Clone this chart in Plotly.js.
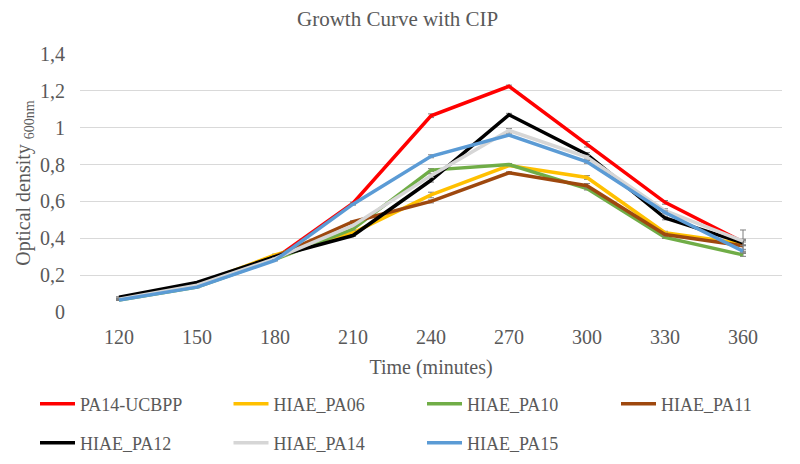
<!DOCTYPE html>
<html>
<head>
<meta charset="utf-8">
<script src="https://cdn.plot.ly/plotly-3.0.1.min.js"></script>
<style>
  html, body { margin: 0; padding: 0; background: #fff; }
  #chart { width: 800px; height: 464px; }
</style>
</head>
<body>
<div id="chart"></div>
<script>
// Temps (minutes)
const times = ['120', '150', '180', '210', '240', '270', '300', '330', '360'];

// DO600 par souche
const pa14ucbpp = [0.07, 0.14, 0.29, 0.59, 1.065, 1.225, 0.91, 0.595, 0.38];
const pa06      = [0.07, 0.15, 0.31, 0.43, 0.635, 0.795, 0.73, 0.43, 0.37];
const pa10      = [0.065, 0.135, 0.285, 0.45, 0.77, 0.80, 0.67, 0.405, 0.31];
const pa11      = [0.07, 0.145, 0.30, 0.49, 0.60, 0.755, 0.685, 0.42, 0.36];
const pa12      = [0.08, 0.16, 0.30, 0.415, 0.715, 1.07, 0.855, 0.51, 0.375];
const pa14      = [0.07, 0.145, 0.29, 0.47, 0.74, 0.985, 0.84, 0.55, 0.385];
const pa15      = [0.065, 0.135, 0.28, 0.585, 0.845, 0.96, 0.815, 0.54, 0.33];

// écarts-types
const err14ucbpp = [0.003, 0.003, 0.004, 0.006, 0.01, 0.006, 0.015, 0.01, 0.015];
const err06      = [0.003, 0.003, 0.004, 0.005, 0.015, 0.006, 0.01, 0.008, 0.01];
const err10      = [0.002, 0.003, 0.003, 0.005, 0.008, 0.006, 0.008, 0.006, 0.008];
const err11      = [0.002, 0.003, 0.003, 0.005, 0.008, 0.006, 0.012, 0.008, 0.03];
const err12      = [0.003, 0.003, 0.004, 0.005, 0.01, 0.008, 0.01, 0.01, 0.015];
const err14      = [0.002, 0.003, 0.003, 0.005, 0.01, 0.01, 0.01, 0.01, 0.06];
const err15      = [0.002, 0.003, 0.003, 0.005, 0.008, 0.006, 0.008, 0.008, 0.01];

const names  = ['PA14-UCBPP', 'HIAE_PA06', 'HIAE_PA10', 'HIAE_PA11', 'HIAE_PA12', 'HIAE_PA14', 'HIAE_PA15'];
const series = [pa14ucbpp, pa06, pa10, pa11, pa12, pa14, pa15];
const errs   = [err14ucbpp, err06, err10, err11, err12, err14, err15];
const colors = ['#FF0000', '#FFC000', '#70AD47', '#9E480E', '#000000', '#D6D6D6', '#5B9BD5'];
const legs   = ['legend', 'legend', 'legend', 'legend3', 'legend2', 'legend2', 'legend2'];

const FONT = "'Liberation Serif', 'Times New Roman', serif";
const GREY = '#595959';

const traces = series.map((y, i) => ({
  x: times, y, type: 'scatter', mode: 'lines', name: names[i],
  line: { color: colors[i], width: 3.5 },
  error_y: { type: 'data', array: errs[i], visible: true, color: '#7f7f7f', thickness: 1, width: 3 },
  legend: legs[i],
}));

const LEG = {
  orientation: 'h', xref: 'container', yref: 'container',
  x: 35 / 800, xanchor: 'left', yanchor: 'middle',
  entrywidth: 143.5, entrywidthmode: 'pixels', itemwidth: 35,
  font: { family: FONT, size: 18, color: GREY },
  bgcolor: 'rgba(0,0,0,0)',
};

const layout = {
  width: 800, height: 464,
  paper_bgcolor: '#fff', plot_bgcolor: '#fff',
  margin: { l: 80, r: 18, t: 54, b: 152 },
  separators: ', ',
  font: { family: FONT, color: GREY },
  title: { text: 'Growth Curve with CIP', x: 0.497, xanchor: 'center', y: 0.96, yanchor: 'middle',
           font: { family: FONT, size: 21, color: GREY } },
  xaxis: {
    type: 'category', range: [-0.5, 8.5], showgrid: false, zeroline: false, showline: false,
    ticks: '', tickfont: { family: FONT, size: 20, color: GREY }, ticklabelstandoff: 11,
    title: { text: 'Time (minutes)', font: { family: FONT, size: 20, color: GREY }, standoff: 12 },
  },
  yaxis: {
    range: [0, 1.4], dtick: 0.2, tick0: 0, showgrid: true, gridcolor: '#D9D9D9', gridwidth: 1,
    zeroline: false, showline: false, ticks: '', ticklabelstandoff: 14,
    tickfont: { family: FONT, size: 20, color: GREY },
    title: { text: 'Optical density <sub>600nm</sub>', font: { family: FONT, size: 20, color: GREY }, standoff: 4 },
  },
  legend:  { ...LEG, y: 1 - 404 / 464 },
  legend3: { ...LEG, x: 616 / 800, y: 1 - 404 / 464 },
  legend2: { ...LEG, y: 1 - 443 / 464 },
  showlegend: true,
};

Plotly.newPlot('chart', traces, layout, { displayModeBar: false, staticPlot: true });
</script>
</body>
</html>
